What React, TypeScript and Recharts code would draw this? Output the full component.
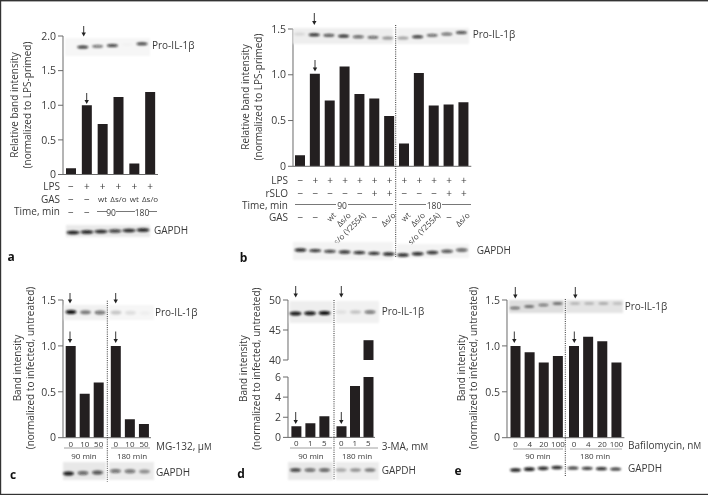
import { BarChart, Bar, XAxis, YAxis } from 'recharts';

const FONT = '"Open Sans", sans-serif';
const TXT = '#3a3a3a';
const AXIS = '#6a6a6a';
const BAR = '#231f20';

// bar heights
const aValues = [0.09, 1.0, 0.73, 1.12, 0.16, 1.19];
const bValues = [0.12, 1.01, 0.72, 1.09, 0.79, 0.74, 0.55, 0.25, 1.02, 0.665, 0.675, 0.7];
const c90 = [1.0, 0.48, 0.6];
const c180 = [1.0, 0.2, 0.15];
const d90 = [1.1, 1.4, 2.1];
const d180 = [1.1, 5.1, 43.3];
const e90 = [1.0, 0.93, 0.82, 0.89];
const e180 = [1.0, 1.1, 1.05, 0.82];

// label rows under the bars
const aLps = ['−', '+', '+', '+', '+', '+'];
const aGas = ['−', '−', 'wt', 'Δs/o', 'wt', 'Δs/o'];
const aTime = ['−', '−', '', '', '', ''];
const bLps = ['−', '+', '+', '+', '+', '+', '+', '+', '+', '+', '+', '+'];
const bSlo = ['−', '−', '−', '−', '−', '+', '+', '−', '−', '−', '+', '+'];
const bGas = ['−', '−', 'wt', 'Δs/o', 's/o (Y255A)', '−', 'Δs/o', 'wt', 'Δs/o', 's/o (Y255A)', '−', 'Δs/o'];
const cDoses = ['0', '10', '50'];
const dDoses = ['0', '1', '5'];
const eDoses = ['0', '4', '20', '100'];

const ticks15 = [0, 0.5, 1, 1.5];
const ticks20 = [0, 0.5, 1, 1.5, 2];
const dUpperTicks = [40, 45, 50];
const dLowerTicks = [0, 2, 4, 6];

// blot band darkness, lane by lane
const aPro = [0, 0.85, 0.55, 0.8, 0.02, 0.8];
const aGapdh = [0.95, 0.95, 0.9, 0.8, 0.9, 0.95];
const bPro90 = [0.1, 0.9, 0.7, 0.9, 0.65, 0.6, 0.4];
const bPro180 = [0.35, 0.85, 0.6, 0.6, 0.75];
const bGapdh90 = [0.9, 0.85, 0.8, 0.85, 0.9, 0.9, 0.9];
const bGapdh180 = [0.9, 0.9, 0.85, 0.7, 0.65];
const cPro90 = [1, 0.5, 0.55];
const cPro180 = [0.2, 0.1, 0.03];
const cGapdh90 = [0.95, 0.6, 0.7];
const cGapdh180 = [0.55, 0.55, 0.4];
const dPro90 = [0.95, 0.95, 1];
const dPro180 = [0.08, 0.2, 0.55];
const dGapdh90 = [0.8, 0.6, 0.65];
const dGapdh180 = [0.3, 0.4, 0.5];
const ePro90 = [0.6, 0.6, 0.55, 0.6];
const ePro180 = [0.25, 0.25, 0.3, 0.2];
const eGapdh90 = [0.95, 0.95, 0.9, 0.9];
const eGapdh180 = [0.85, 0.85, 0.9, 0.85];

const toRows = (values: (number | null)[]) => values.map((value, i) => ({ id: `c${i}`, value }));
const fmt1 = (v: number) => (v === 0 ? '0' : v.toFixed(1));
const isSign = (s: string) => s === '+' || s === '−';

// draws the stacked label rows through the axis' own band positions
function RowTick(props: any) {
  const { x, y, index, rows, offsets, sizes } = props;
  return (
    <g>
      {rows.map((row: string[], r: number) => (
        <text key={r} x={x} y={y + offsets[r]} textAnchor="middle" dominantBaseline="central"
          fontSize={isSign(row[index]) ? 10 : sizes[r]} fontFamily={FONT} fill={TXT}>
          {row[index]}
        </text>
      ))}
    </g>
  );
}

function SlantTick(props: any) {
  const { x, y, index, rows, offsets, slanted } = props;
  const label = slanted[index];
  return (
    <g>
      {rows.map((row: string[], r: number) => (
        <text key={r} x={x} y={y + offsets[r]} textAnchor="middle" dominantBaseline="central"
          fontSize={10} fontFamily={FONT} fill={TXT}>{row[index]}</text>
      ))}
      {label === '−' ? (
        <text x={x} y={y + 51} textAnchor="middle" dominantBaseline="central" fontSize={10} fontFamily={FONT} fill={TXT}>−</text>
      ) : (
        <text transform={`translate(${x + 4},${y + 47}) rotate(-45)`} textAnchor="end" dominantBaseline="central"
          fontSize={8} fontFamily={FONT} fill={TXT}>{label}</text>
      )}
    </g>
  );
}

interface PanelProps {
  axisX: number; top: number; plotW: number; plotH: number; values: (number | null)[];
  domain: number[]; ticks?: number[]; tickFormat?: (v: number) => string;
  pad?: { left: number; right: number }; tick?: any; xHeight?: number; noBase?: boolean; barW?: number;
}

function Panel({ axisX, top, plotW, plotH, values, domain, ticks, tickFormat, pad, tick, xHeight = 44, noBase, barW = 10 }: PanelProps) {
  const yWidth = ticks ? 34 : 0;
  const xH = noBase ? 0 : xHeight;
  const bottom = noBase ? 8 : 0;
  return (
    <div style={{ position: 'absolute', left: axisX - yWidth, top: top - 8, willChange: 'opacity' }}>
      <BarChart width={yWidth + plotW + 2} height={8 + plotH + xH + bottom} data={toRows(values)}
        margin={{ top: 8, right: 2, bottom, left: 0 }} barCategoryGap={0}>
        <XAxis dataKey="id" hide={noBase} height={xH} stroke={AXIS} tickLine={false} tickSize={0} tickMargin={0} interval={0}
          padding={pad ?? { left: 0, right: 0 }} tick={tick} />
        <YAxis hide={!ticks} width={yWidth} domain={domain} ticks={ticks} allowDataOverflow interval={0}
          stroke={AXIS} tickSize={5} tickMargin={2} tickFormatter={tickFormat}
          tick={{ fontSize: 10.5, fill: TXT, fontFamily: FONT }} />
        <Bar dataKey="value" fill={BAR} barSize={barW} isAnimationActive={false} />
      </BarChart>
    </div>
  );
}

function Label({ x, y, children, anchor = 'start', size = 10, weight = 400, color = TXT }: any) {
  return (
    <text x={x} y={y} textAnchor={anchor} dominantBaseline="central" fontSize={size} fontWeight={weight}
      fontFamily={FONT} fill={color}>{children}</text>
  );
}

function VLabel({ x, y, children }: any) {
  return (
    <text transform={`translate(${x},${y}) rotate(-90)`} textAnchor="middle" dominantBaseline="central"
      fontSize={10} fontFamily={FONT} fill={TXT}>{children}</text>
  );
}

function Arrow({ x, y1, y2 }: { x: number; y1: number; y2: number }) {
  return (
    <g>
      <line x1={x} x2={x} y1={y1} y2={y2 - 3} stroke="#222" strokeWidth={0.9} />
      <path d={`M${x - 2.2} ${y2 - 4}L${x + 2.2} ${y2 - 4}L${x} ${y2}Z`} fill="#222" />
    </g>
  );
}

function Blot({ x0, step, levels, y0, y1, rx = 5.5, ry = 1.5 }: any) {
  return (
    <g filter="url(#soft)">
      {levels.map((level: number, i: number) => (
        <ellipse key={i} cx={x0 + step * i} cy={y0 + ((y1 - y0) * i) / Math.max(levels.length - 1, 1)}
          rx={rx} ry={ry} fill="#0c0c0c" opacity={level} />
      ))}
    </g>
  );
}

function Patch({ x, y, w, h, fill = '#efefef' }: any) {
  return <rect x={x} y={y} width={w} height={h} fill={fill} filter="url(#softer)" />;
}

function Dotted({ x, y1, y2 }: { x: number; y1: number; y2: number }) {
  return <line x1={x} x2={x} y1={y1} y2={y2} stroke="#333" strokeWidth={1} strokeDasharray="1 1.2" />;
}

function Rule({ x1, x2, y, color = '#555' }: any) {
  return <line x1={x1} x2={x2} y1={y} y2={y} stroke={color} strokeWidth={0.8} />;
}

const aTick = <RowTick rows={[aLps, aGas, aTime]} offsets={[11, 24, 37]} sizes={[10, 8, 10]} />;
const bTick = <SlantTick rows={[bLps, bSlo]} offsets={[14, 27]} slanted={bGas} />;
const doseTick = (doses: string[]) => <RowTick rows={[doses]} offsets={[5.5]} sizes={[8]} />;

export default function App() {
  return (
    <div style={{ position: 'absolute', left: 0, top: 0, width: 708, height: 495, background: '#fff', overflow: 'hidden' }}>
      {/* a */}
      <Panel axisX={62.5} top={36} plotW={95} plotH={138.5} values={aValues} domain={[0, 2]} ticks={ticks20} tickFormat={fmt1} tick={aTick} />
      {/* b */}
      <Panel axisX={292.7} top={28.7} plotW={178.3} plotH={137.3} values={bValues} domain={[0, 1.5]} ticks={ticks15} tickFormat={fmt1} tick={bTick} xHeight={82} />
      {/* c */}
      <Panel axisX={63.3} top={300} plotW={44} plotH={137.7} values={c90} domain={[0, 1.5]} ticks={ticks15} tickFormat={fmt1}
        pad={{ left: 0.7, right: 1.3 }} tick={doseTick(cDoses)} xHeight={14} />
      <Panel axisX={107.3} top={300} plotW={44} plotH={137.7} values={c180} domain={[0, 1.5]}
        pad={{ left: 1.8, right: 0 }} tick={doseTick(cDoses)} xHeight={14} />
      {/* d, broken axis */}
      <Panel axisX={288.3} top={300} plotW={44.7} plotH={60} values={d90.map(v => (v >= 40 ? v : null))} domain={[40, 50]} ticks={dUpperTicks} noBase
        pad={{ left: 1.4, right: 1.3 }} />
      <Panel axisX={333} top={300} plotW={42} plotH={60} values={d180.map(v => (v >= 40 ? v : null))} domain={[40, 50]} noBase
        pad={{ left: 1.5, right: 0 }} />
      <Panel axisX={288.3} top={377.3} plotW={44.7} plotH={60.4} values={d90} domain={[0, 6]} ticks={dLowerTicks}
        pad={{ left: 1.4, right: 1.3 }} tick={doseTick(dDoses)} xHeight={14} />
      <Panel axisX={333} top={377.3} plotW={42} plotH={60.4} values={d180} domain={[0, 6]}
        pad={{ left: 1.5, right: 0 }} tick={doseTick(dDoses)} xHeight={14} />
      {/* e */}
      <Panel axisX={506.7} top={300} plotW={58.6} plotH={137.7} values={e90} domain={[0, 1.5]} ticks={ticks15} tickFormat={fmt1}
        pad={{ left: 1.5, right: 0.6 }} tick={doseTick(eDoses)} xHeight={14} />
      <Panel axisX={565.3} top={300} plotW={59.4} plotH={137.7} values={e180} domain={[0, 1.5]}
        pad={{ left: 2, right: 0.8 }} tick={doseTick(eDoses)} xHeight={14} />

      <svg width={708} height={495} style={{ position: 'absolute', left: 0, top: 0, pointerEvents: 'none', willChange: 'opacity' }}>
        <defs>
          <filter id="soft" x="-10%" y="-100%" width="120%" height="300%"><feGaussianBlur stdDeviation="0.9" /></filter>
          <filter id="softer" x="-5%" y="-20%" width="110%" height="140%"><feGaussianBlur stdDeviation="1.2" /></filter>
        </defs>

        {/* page frame */}
        <rect x={0} y={0} width={708} height={1.4} fill="#333" />
        <rect x={0} y={0} width={1.2} height={495} fill="#333" />
        <rect x={0} y={493.8} width={708} height={1.2} fill="#333" />

        {/* panel a */}
        <VLabel x={14} y={105}>Relative band intensity</VLabel>
        <VLabel x={27} y={105}>(normalized to LPS-primed)</VLabel>
        <Patch x={65} y={38} w={85} h={18} fill="#f6f6f6" />
        <Blot x0={68} step={14.8} levels={aPro} y0={47.8} y1={43.8} />
        <Label x={152} y={44.5}>Pro-IL-1β</Label>
        <Arrow x={83.7} y1={26} y2={36.5} />
        <Arrow x={86.7} y1={93} y2={104} />
        <Label x={60} y={185.5} anchor="end">LPS</Label>
        <Label x={60} y={198.5} anchor="end">GAS</Label>
        <Label x={60} y={211} anchor="end">Time, min</Label>
        <Rule x1={97} x2={107} y={211.5} />
        <Rule x1={116} x2={135} y={211.5} />
        <Rule x1={149} x2={157} y={211.5} />
        <Label x={111} y={212} anchor="middle" size={8.5}>90</Label>
        <Label x={142} y={212} anchor="middle" size={8.5}>180</Label>
        <Patch x={66} y={225} w={84} h={12} fill="#e9e9e9" />
        <Blot x0={73} step={14} levels={aGapdh} y0={232.5} y1={230} rx={6.5} ry={1.7} />
        <Label x={154} y={229.5}>GAPDH</Label>
        <Label x={11} y={256} anchor="middle" size={12} weight={700} color="#111">a</Label>

        {/* panel b */}
        <VLabel x={245} y={97}>Relative band intensity</VLabel>
        <VLabel x={258} y={97}>(normalized to LPS-primed)</VLabel>
        <Patch x={293} y={28} w={100} h={16} fill="#eeeeee" />
        <Patch x={397} y={28} w={72} h={16} fill="#f1f1f1" />
        <Blot x0={299.5} step={14.7} levels={bPro90} y0={34} y1={38} />
        <Blot x0={403} step={14.6} levels={bPro180} y0={38} y1={32.5} />
        <Label x={472.7} y={34}>Pro-IL-1β</Label>
        <Arrow x={314.3} y1={13} y2={25} />
        <Arrow x={315} y1={60} y2={71.5} />
        <Dotted x={395.7} y1={25} y2={257} />
        <Label x={288} y={180} anchor="end">LPS</Label>
        <Label x={288} y={193} anchor="end">rSLO</Label>
        <Label x={288} y={204.5} anchor="end">Time, min</Label>
        <Label x={288} y={217} anchor="end">GAS</Label>
        <Rule x1={295} x2={336} y={204.5} />
        <Rule x1={348} x2={393} y={204.5} />
        <Rule x1={399} x2={426} y={204.5} />
        <Rule x1={442} x2={471} y={204.5} />
        <Label x={342} y={205} anchor="middle" size={8.5}>90</Label>
        <Label x={434} y={205} anchor="middle" size={8.5}>180</Label>
        <Patch x={293} y={242} w={100} h={18} fill="#f3f3f3" />
        <Patch x={397} y={244} w={72} h={14} fill="#f3f3f3" />
        <Blot x0={300.5} step={14.7} levels={bGapdh90} y0={250} y1={254} rx={6} ry={1.7} />
        <Blot x0={403} step={14.7} levels={bGapdh180} y0={255} y1={250} rx={6} ry={1.7} />
        <Label x={476.7} y={249.5}>GAPDH</Label>
        <Label x={243.5} y={257} anchor="middle" size={12} weight={700} color="#111">b</Label>

        {/* panel c */}
        <VLabel x={16.7} y={368}>Band intensity</VLabel>
        <VLabel x={30} y={368}>(normalized to infected, untreated)</VLabel>
        <Patch x={64} y={305} w={43} h={15} fill="#f1f1f1" />
        <Patch x={109} y={305} w={45} h={15} fill="#f6f6f6" />
        <Blot x0={71} step={14.5} levels={cPro90} y0={312} y1={312.5} rx={5.5} ry={2} />
        <Blot x0={116} step={14.5} levels={cPro180} y0={312.5} y1={313} rx={5.5} ry={2} />
        <Label x={155} y={311.7}>Pro-IL-1β</Label>
        <Arrow x={70} y1={293} y2={303.5} />
        <Arrow x={115.7} y1={293} y2={303.5} />
        <Arrow x={70} y1={331.5} y2={343} />
        <Arrow x={115.7} y1={331.5} y2={343} />
        <Dotted x={107.3} y1={300.7} y2={481.7} />
        <Rule x1={64} x2={103} y={448} color="#888" />
        <Rule x1={111} x2={150} y={448} color="#888" />
        <Label x={84} y={455} anchor="middle" size={8}>90 min</Label>
        <Label x={132} y={455} anchor="middle" size={8}>180 min</Label>
        <Label x={156} y={445.7}>MG-132, μ<tspan fontSize={8.5}>M</tspan></Label>
        <Patch x={63} y={462} w={43} h={18} fill="#e8e8e8" />
        <Patch x={109} y={462} w={45} h={18} fill="#ebebeb" />
        <Blot x0={68.5} step={14.5} levels={cGapdh90} y0={473.5} y1={472.5} rx={5.5} ry={2} />
        <Blot x0={115.5} step={14.5} levels={cGapdh180} y0={471} y1={471.5} rx={5.5} ry={2} />
        <Label x={156} y={471.7}>GAPDH</Label>
        <Label x={13} y={474} anchor="middle" size={12} weight={700} color="#111">c</Label>

        {/* panel d */}
        <VLabel x={243.3} y={368.7}>Band intensity</VLabel>
        <VLabel x={255.7} y={368.7}>(normalized to infected, untreated)</VLabel>
        <Patch x={289.5} y={301} w={43} h={22} fill="#eeeeee" />
        <Patch x={336} y={301} w={43} h={22} fill="#f1f1f1" />
        <Blot x0={295.5} step={14.5} levels={dPro90} y0={313.5} y1={313} rx={6} ry={2} />
        <Blot x0={341} step={14.5} levels={dPro180} y0={312} y1={312} rx={5.5} ry={1.8} />
        <Label x={381.7} y={310.7}>Pro-IL-1β</Label>
        <Arrow x={295.7} y1={286} y2={297.5} />
        <Arrow x={341.3} y1={286} y2={297.5} />
        <Arrow x={295.7} y1={412} y2={424} />
        <Arrow x={341.3} y1={412} y2={424} />
        <Dotted x={334} y1={300} y2={480} />
        <Rule x1={290} x2={332} y={448} color="#888" />
        <Rule x1={339} x2={378} y={448} color="#888" />
        <Label x={311} y={455} anchor="middle" size={8}>90 min</Label>
        <Label x={357} y={455} anchor="middle" size={8}>180 min</Label>
        <Label x={381.7} y={445.7}>3-MA, m<tspan fontSize={8.5}>M</tspan></Label>
        <Patch x={288} y={462} w={45} h={18} fill="#e8e8e8" />
        <Patch x={336} y={462} w={43} h={18} fill="#ececec" />
        <Blot x0={295.5} step={14.5} levels={dGapdh90} y0={470} y1={470} rx={5.5} ry={1.8} />
        <Blot x0={341} step={14.5} levels={dGapdh180} y0={470} y1={470} rx={5.5} ry={1.8} />
        <Label x={381.7} y={470}>GAPDH</Label>
        <Label x={241} y={473} anchor="middle" size={12} weight={700} color="#111">d</Label>

        {/* panel e */}
        <VLabel x={461} y={368}>Band intensity</VLabel>
        <VLabel x={473} y={368}>(normalized to infected, untreated)</VLabel>
        <Patch x={509} y={300} w={55} h={13} fill="#dedede" />
        <Patch x={566} y={300} w={57} h={13} fill="#e4e4e4" />
        <Blot x0={515} step={14.2} levels={ePro90} y0={308} y1={303.5} rx={5} ry={1.3} />
        <Blot x0={575} step={14.2} levels={ePro180} y0={303.5} y1={303.5} rx={5} ry={1.2} />
        <Label x={624.7} y={306}>Pro-IL-1β</Label>
        <Arrow x={515.3} y1={287} y2={298.5} />
        <Arrow x={575.3} y1={287} y2={298.5} />
        <Arrow x={514.3} y1={331.5} y2={343} />
        <Arrow x={574.3} y1={331.5} y2={343} />
        <Dotted x={565.3} y1={299} y2={477} />
        <Rule x1={513} x2={563} y={449} color="#888" />
        <Rule x1={570} x2={622} y={449} color="#999" />
        <Label x={538} y={455.5} anchor="middle" size={8}>90 min</Label>
        <Label x={595} y={455.5} anchor="middle" size={8}>180 min</Label>
        <Label x={628} y={445}>Bafilomycin, n<tspan fontSize={8.5}>M</tspan></Label>
        <Blot x0={515.5} step={13.8} levels={eGapdh90} y0={470} y1={467.5} rx={5.5} ry={1.8} />
        <Blot x0={573} step={14.2} levels={eGapdh180} y0={468} y1={469} rx={5.5} ry={1.6} />
        <Label x={628} y={468}>GAPDH</Label>
        <Label x={458} y={470} anchor="middle" size={12} weight={700} color="#111">e</Label>
      </svg>
    </div>
  );
}
